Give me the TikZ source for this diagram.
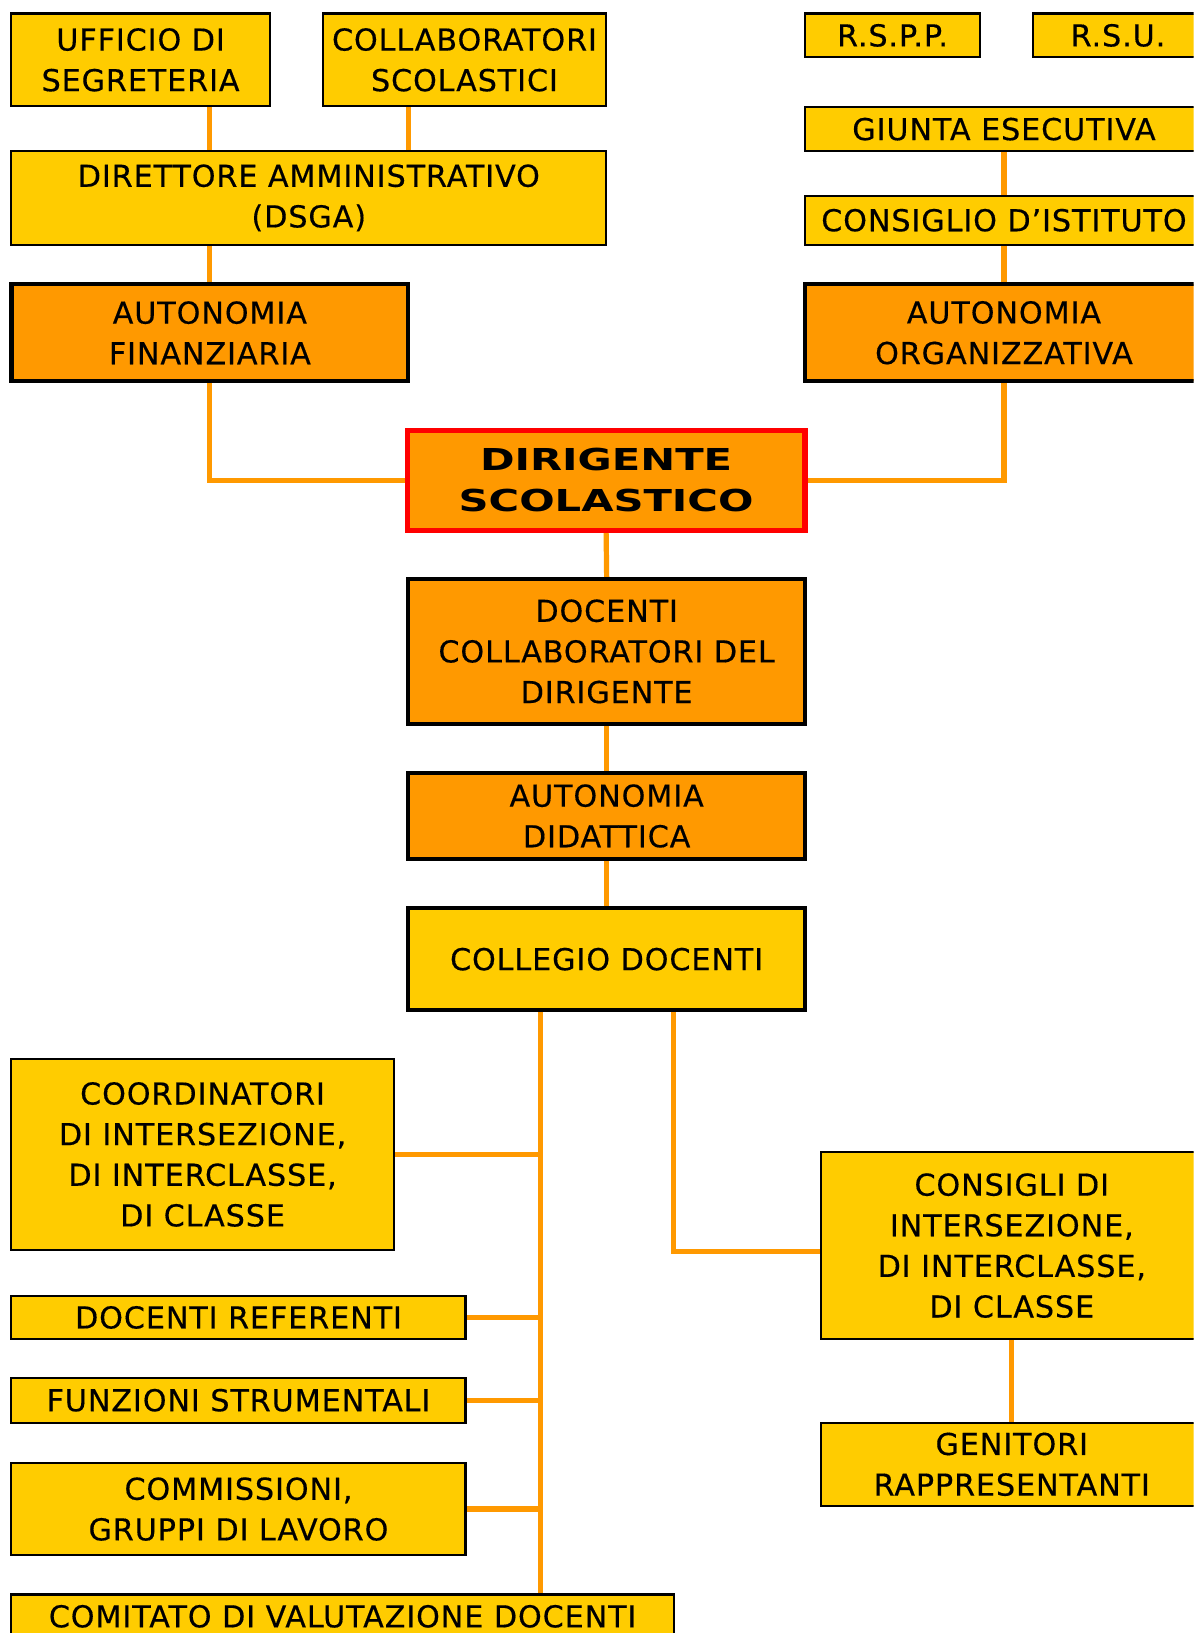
\documentclass[tikz,border=0pt]{standalone}
\usepackage{fontspec}
\setmainfont[LetterSpace=3,FakeBold=0.4]{DejaVu Sans}
\newfontfamily\widefont[FakeStretch=1.38]{DejaVu Sans}
\usetikzlibrary{backgrounds}
\definecolor{yel}{HTML}{FFCC00}
\definecolor{org}{HTML}{FF9900}
\definecolor{linkc}{HTML}{FF9900}
\begin{document}
\begin{tikzpicture}[x=1pt,y=-1pt,
  font=\fontsize{29}{39}\selectfont,
  box/.style={draw=black, inner sep=0pt, align=center},
  ybox/.style={box, fill=yel, line width=2pt},
  ythick/.style={box, fill=yel, line width=4pt},
  obox/.style={box, fill=org, line width=4pt},
  dbox/.style={box, fill=org, draw=red, line width=5pt},
  conn/.style={draw=linkc, line width=5pt}]
\path[use as bounding box] (0,0) rectangle (1146,1568);
\clip (0,0) rectangle (1146,1568);

% top left
\node[ybox, minimum width=248pt, minimum height=89pt] (uff) at (135,57.5) {UFFICIO DI\\SEGRETERIA};
\node[ybox, minimum width=272pt, minimum height=89pt] (col) at (446,57.5) {COLLABORATORI\\SCOLASTICI};
\node[ybox, minimum width=571pt, minimum height=90pt] (dsga) at (296.5,190) {DIRETTORE AMMINISTRATIVO\\(DSGA)};
\node[obox, minimum width=381pt, minimum height=93pt] (autfin) at (201.5,319.5) {AUTONOMIA\\FINANZIARIA};

% top right
\node[ybox, minimum width=168pt, minimum height=42pt] (rspp) at (857,34) {R.S.P.P.};
\node[ybox, minimum width=163pt, minimum height=42pt] (rsu) at (1073.5,34) {R.S.U.};
\node[ybox, minimum width=382pt, minimum height=42pt] (giunta) at (964,124) {GIUNTA ESECUTIVA};
\node[ybox, minimum width=382pt, minimum height=47pt] (consiglio) at (964,211.5) {CONSIGLIO D’ISTITUTO};
\node[obox, minimum width=382pt, minimum height=93pt] (autorg) at (964,319.5) {AUTONOMIA\\ORGANIZZATIVA};

% centre column
\node[dbox, minimum width=382pt, minimum height=96pt] (dir) at (582,461) {\widefont\bfseries DIRIGENTE\\\widefont\bfseries SCOLASTICO};
\node[obox, minimum width=381pt, minimum height=139pt] (doccoll) at (582.5,625.5) {DOCENTI\\COLLABORATORI DEL\\DIRIGENTE};
\node[obox, minimum width=381pt, minimum height=83pt] (autdid) at (582.5,783.5) {AUTONOMIA\\DIDATTICA};
\node[ythick, minimum width=381pt, minimum height=98pt] (collegio) at (582.5,921) {COLLEGIO DOCENTI};

% bottom left
\node[ybox, minimum width=367pt, minimum height=183pt] (coord) at (194.5,1108.5) {COORDINATORI\\DI INTERSEZIONE,\\DI INTERCLASSE,\\DI CLASSE};
\node[ybox, minimum width=436pt, minimum height=42pt] (docref) at (229,1265) {DOCENTI REFERENTI};
\node[ybox, minimum width=436pt, minimum height=43pt] (funz) at (229,1344.5) {FUNZIONI STRUMENTALI};
\node[ybox, minimum width=436pt, minimum height=88pt] (comm) at (229,1449) {COMMISSIONI,\\GRUPPI DI LAVORO};
\node[ybox, minimum width=636pt, minimum height=42pt] (comitato) at (329,1552) {COMITATO DI VALUTAZIONE DOCENTI};

% bottom right
\node[ybox, minimum width=367pt, minimum height=180pt] (consigli) at (971.5,1196) {CONSIGLI DI\\INTERSEZIONE,\\DI INTERCLASSE,\\DI CLASSE};
\node[ybox, minimum width=367pt, minimum height=80pt] (genitori) at (971.5,1406) {GENITORI\\RAPPRESENTANTI};

\coordinate (cx) at (392,0);
\coordinate (bx) at (519,0);
\coordinate (rx) at (647,0);
\coordinate (ry) at (0,1202);

\begin{pgfonlayer}{background}
  \draw[conn] (uff.south -| autfin.north) -- (dsga.north -| autfin.north);
  \draw[conn] (col.south -| cx) -- (dsga.north -| cx);
  \draw[conn] (dsga.south -| autfin.north) -- (autfin.north);
  \draw[conn] (autfin.south) |- (dir.west);
  \draw[conn] (giunta.south) -- (consiglio.north);
  \draw[conn] (consiglio.south) -- (autorg.north);
  \draw[conn] (autorg.south) |- (dir.east);
  \draw[conn] (dir.south) -- (doccoll.north);
  \draw[conn] (doccoll.south) -- (autdid.north);
  \draw[conn] (autdid.south) -- (collegio.north);
  \draw[conn] (collegio.south -| bx) -- (comitato.north -| bx);
  \draw[conn] (coord.east) -- (coord.east -| bx);
  \draw[conn] (docref.east) -- (docref.east -| bx);
  \draw[conn] (funz.east) -- (funz.east -| bx);
  \draw[conn] (comm.east) -- (comm.east -| bx);
  \draw[conn] (collegio.south -| rx) -- (rx |- ry) -- (consigli.west |- ry);
  \draw[conn] (consigli.south) -- (genitori.north);
\end{pgfonlayer}
\end{tikzpicture}
\end{document}
